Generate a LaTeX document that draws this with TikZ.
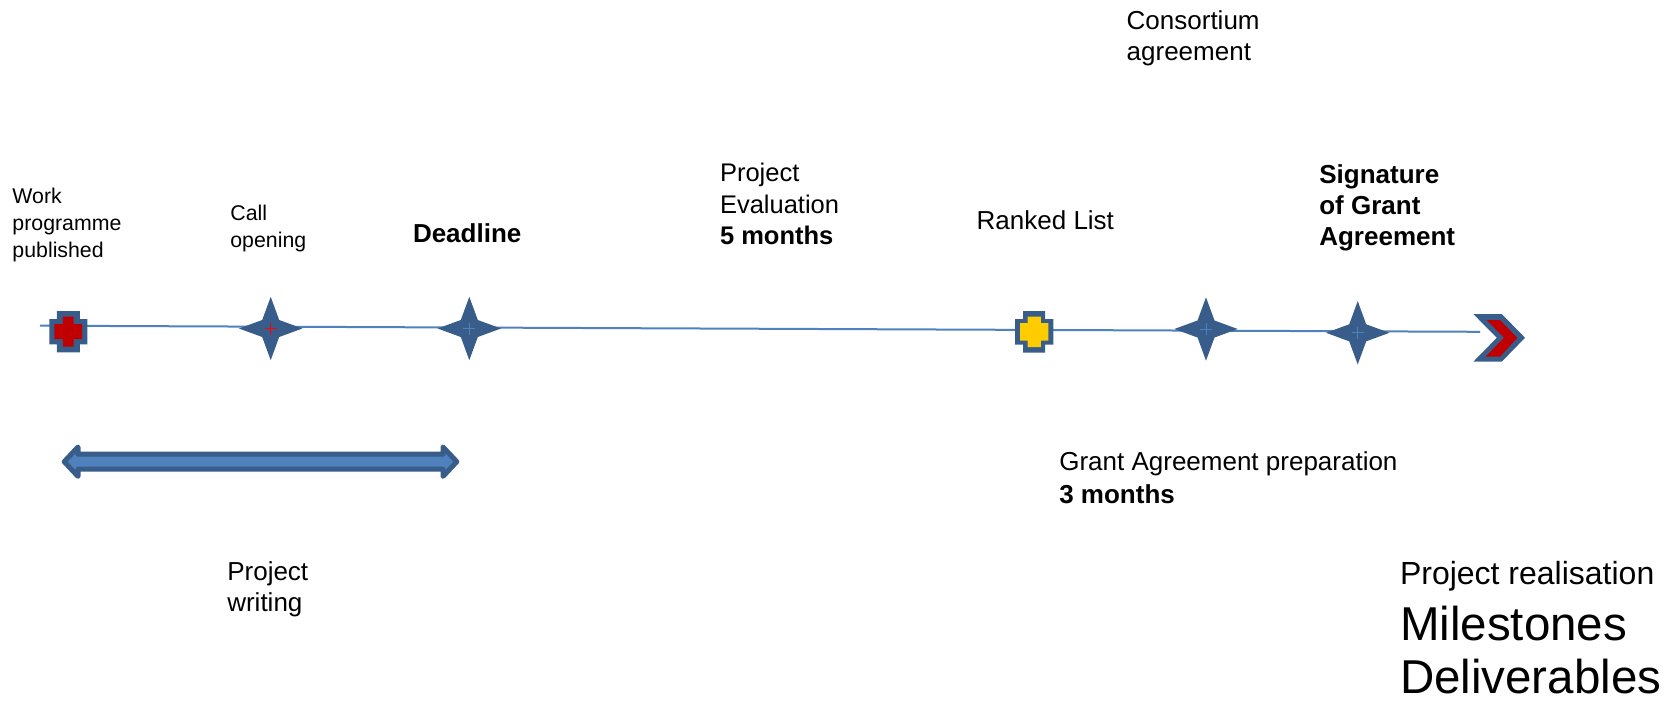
\documentclass[tikz,border=0pt]{standalone}
\usepackage{fontspec}
\setmainfont{Liberation Sans}
\definecolor{tlblue}{HTML}{4F81BD}
\definecolor{dkblue}{HTML}{385D8A}
\definecolor{crossred}{HTML}{C00000}
\definecolor{crossyellow}{HTML}{FFCC00}
\newcommand{\lns}[1]{\begin{tabular}[t]{@{}l@{}}#1\end{tabular}}
% #1 colour, #2 half width, #3 half height, #4 vertical arm half width, #5 band half height, #6 centre
\newcommand{\plusmark}[6]{%
  \fill[#1,shift={(#6)}] (-#4,-#3) -- (#4,-#3) -- (#4,-#5) -- (#2,-#5) -- (#2,#5) -- (#4,#5) -- (#4,#3) -- (-#4,#3) -- (-#4,#5) -- (-#2,#5) -- (-#2,-#5) -- (-#4,-#5) -- cycle;}
% #1 centre, #2 colour of the small centre cross
\newcommand{\starmark}[2]{%
  \fill[dkblue,shift={(#1)}] (31.7,0) -- (8.5,-8.5) -- (0,-31.7) -- (-8.5,-8.5) -- (-31.7,0) -- (-8.5,8.5) -- (0,31.7) -- (8.5,8.5) -- cycle;
  \draw[#2,line width=1pt,shift={(#1)}] (-6,0) -- (6,0) (0,-6) -- (0,6);}
\begin{document}
\begin{tikzpicture}[x=1pt,y=-1pt,
  lbl/.style={inner sep=0pt,outer sep=0pt,anchor=base west,text=black},
  tl/.style={draw=tlblue,line width=2pt},
  dbl/.style={draw=dkblue,fill=tlblue,line width=5pt,line join=round}]
\useasboundingbox (0,0) rectangle (1677,701);

% timeline
\coordinate (tls) at (40,325.7);
\coordinate (tle) at (1480,331.8);
\draw[tl] (tls) -- (tle);

% milestones
\coordinate (wpm) at (68.3,331.7);
\coordinate (s1) at (270.7,328.5);
\coordinate (s2) at (469.3,328.5);
\coordinate (rk) at (1034.2,331.8);
\coordinate (s3) at (1206,329);
\coordinate (s4) at (1357.7,332.8);

\plusmark{dkblue}{19}{20.7}{11.5}{12.6}{wpm}
\plusmark{crossred}{13.9}{15}{5.4}{7.5}{wpm}
\plusmark{dkblue}{19.2}{20.8}{11}{12.8}{rk}
\plusmark{crossyellow}{14.2}{15.3}{6.7}{8.8}{rk}

\starmark{s1}{red}
\starmark{s2}{tlblue}
\starmark{s3}{tlblue}
\starmark{s4}{tlblue}

% chevron at the end
\fill[dkblue] (1473.3,314) -- (1501.7,314) -- (1525,337.8) -- (1501.7,361.7) -- (1473.3,361.7) -- (1496.8,337.8) -- cycle;
\fill[crossred] (1486.7,320) -- (1500,320) -- (1517.3,337.8) -- (1500,356.7) -- (1485.5,356.7) -- (1504,337.8) -- cycle;

% double arrow (project writing)
\draw[dbl] (64.2,461.7) -- (78,447) -- (78,454.2) -- (443,454.2) -- (443,447) -- (456.8,461.7) -- (443,476.4) -- (443,469.2) -- (78,469.2) -- (78,476.4) -- cycle;

% labels
\node[lbl] (wp) at (12.5,203.6) {\fontsize{21.3}{26.7}\selectfont\lns{Work\\programme\\published}};
\node[lbl] (call) at (230.4,220) {\fontsize{21.3}{27.5}\selectfont\lns{Call\\opening}};
\node[lbl] (dead) at (413,242.9) {\fontsize{26}{31}\selectfont\bfseries Deadline};
\node[lbl] (eval) at (720,181.7) {\fontsize{25.5}{31.3}\selectfont\lns{Project\\Evaluation\\\textbf{5 months}}};
\node[lbl] (rank) at (976.7,229) {\fontsize{26}{31}\selectfont Ranked List};
\node[lbl] (cons) at (1126.7,30) {\fontsize{26}{30.7}\selectfont\lns{Consortium\\agreement}};
\node[lbl] (sig) at (1319.3,183.3) {\fontsize{26}{30.85}\selectfont\bfseries\lns{Signature\\of Grant\\Agreement}};
\node[lbl] (gap) at (1059.3,470.7) {\fontsize{26}{32.6}\selectfont\lns{Grant Agreement preparation\\\textbf{3 months}}};
\node[lbl] (pw) at (227.3,580) {\fontsize{26}{31.7}\selectfont\lns{Project\\writing}};
\node[lbl] (real) at (1400,584) {\fontsize{32}{36}\selectfont Project realisation};
\node[lbl] (mil) at (1400,640) {\fontsize{47.5}{50}\selectfont Milestones};
\node[lbl] (del) at (1400,693) {\fontsize{47.5}{50}\selectfont Deliverables};
\end{tikzpicture}
\end{document}
